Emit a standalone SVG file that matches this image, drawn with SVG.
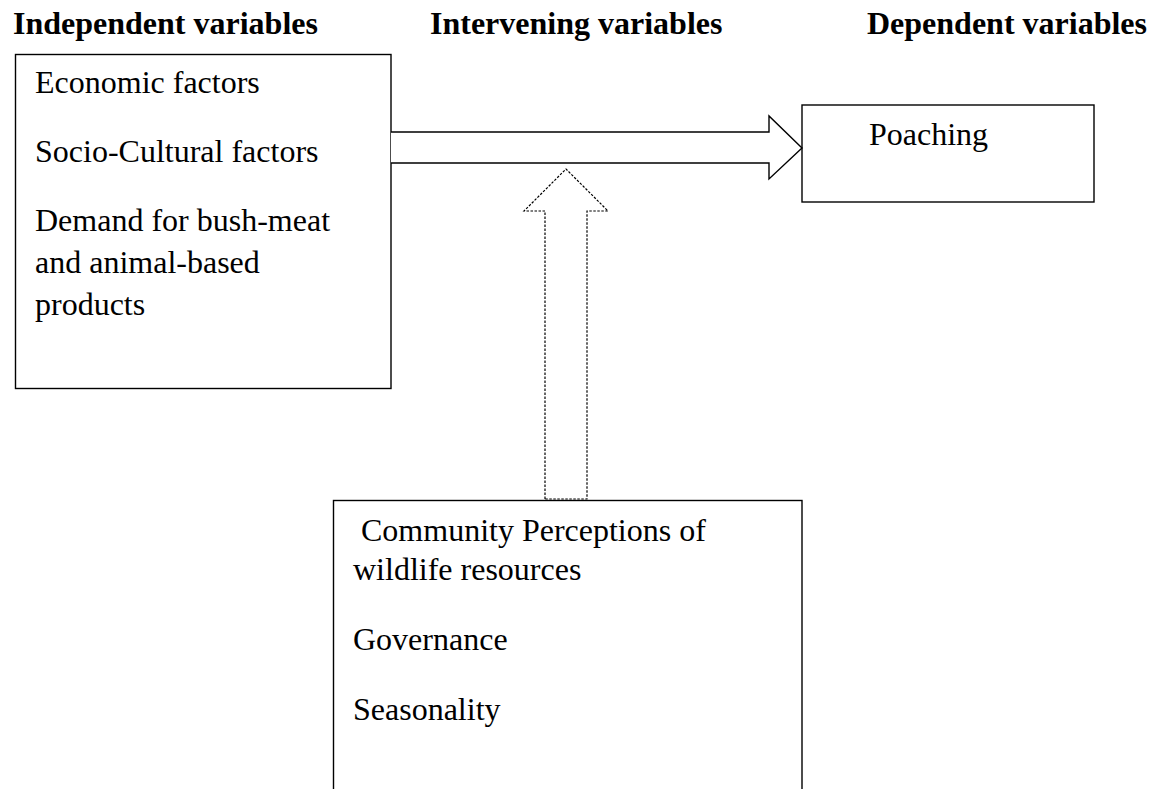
<svg xmlns="http://www.w3.org/2000/svg" width="1156" height="789" viewBox="0 0 1156 789">
<style>
.hdr{font-family:"Liberation Serif","Times New Roman",serif;font-size:32px;font-weight:bold;fill:#000}
.txt{font-family:"Liberation Serif","Times New Roman",serif;font-size:32px;fill:#000}
.box{fill:#fff;stroke:#000;stroke-width:1.4}
.solid{fill:#fff;stroke:#000;stroke-width:1.4;stroke-linejoin:miter}
.dotted{fill:#fff;stroke:#000;stroke-width:1.2;stroke-dasharray:2.5 1.5}
</style>
<rect width="1156" height="789" fill="#fff"/>
<g id="headers">
<text class="hdr" x="13" y="34">Independent variables</text>
<text class="hdr" x="430" y="34">Intervening variables</text>
<text class="hdr" x="867" y="34">Dependent variables</text>
</g>
<g id="independent">
<rect class="box" x="15.5" y="54.5" width="375.5" height="334"/>
<text class="txt" x="35" y="93">Economic factors</text>
<text class="txt" x="35" y="162">Socio-Cultural factors</text>
<text class="txt" x="35" y="231">Demand for bush-meat</text>
<text class="txt" x="35" y="273">and animal-based</text>
<text class="txt" x="35" y="315">products</text>
</g>
<g id="dependent">
<rect class="box" x="802" y="105" width="292" height="97"/>
<text class="txt" x="869" y="145">Poaching</text>
</g>
<g id="intervening">
<rect class="box" x="333.5" y="500.5" width="468.5" height="320"/>
<text class="txt" x="353" y="541" xml:space="preserve"> Community Perceptions of</text>
<text class="txt" x="353" y="580">wildlife resources</text>
<text class="txt" x="353" y="650">Governance</text>
<text class="txt" x="353" y="720">Seasonality</text>
</g>
<g id="connectors">
<path class="solid" d="M391,132 L769,132 L769,116 L802,148 L769,179 L769,163 L391,163"/>
<path class="dotted" d="M545,499 L545,211 L524,211 L566,169 L608,211 L587,211 L587,499 Z"/>
</g>
</svg>
